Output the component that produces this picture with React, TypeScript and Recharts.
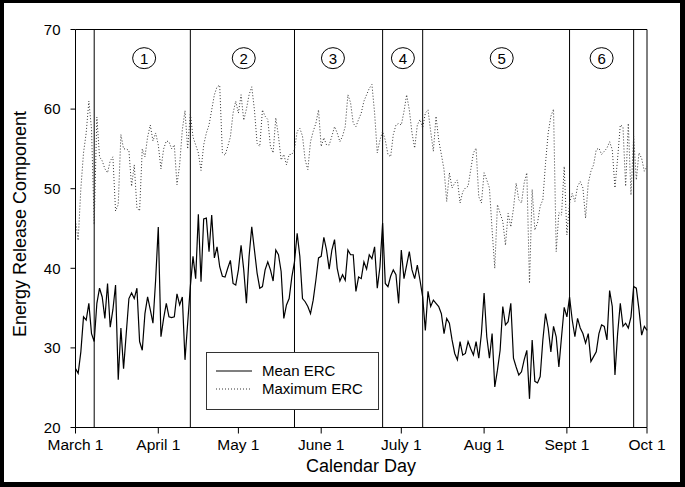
import { LineChart, Line, XAxis, YAxis, ReferenceLine, ReferenceDot, Legend } from 'recharts';

// daily values, March 1 = day 0 ... Oct 1 = day 214
const meanErc = [
  27.4, 26.8, 29.5, 33.9, 33.5, 35.6, 31.8, 30.8, 35.6, 37.5,
  36.4, 33.7, 38.1, 32.6, 34.8, 37.9, 26.0, 32.5, 27.4, 31.8,
  36.2, 36.9, 36.2, 37.5, 30.8, 29.7, 34.3, 36.4, 34.8, 33.1,
  38.5, 45.2, 31.4, 33.7, 35.6, 33.9, 33.8, 33.9, 36.8, 35.4,
  36.4, 28.5, 33.1, 37.7, 41.5, 38.7, 46.8, 38.3, 46.2, 46.3,
  42.1, 46.7, 41.3, 42.7, 40.2, 39.0, 38.9, 40.0, 41.0, 38.1,
  37.9, 39.8, 42.9, 39.8, 35.6, 41.5, 45.2, 42.3, 39.4, 37.5,
  37.7, 39.8, 40.8, 39.8, 38.4, 42.3, 41.7, 39.6, 33.7, 35.4,
  36.2, 38.9, 40.8, 44.4, 41.5, 36.2, 35.8, 35.2, 34.3, 36.0,
  38.5, 41.3, 41.5, 43.9, 42.3, 39.9, 42.3, 43.6, 40.0, 38.4,
  39.2, 38.5, 42.3, 41.7, 41.7, 37.1, 38.9, 38.7, 40.8, 39.9,
  41.7, 41.2, 42.7, 37.5, 40.2, 45.7, 38.1, 37.7, 39.0, 39.8,
  39.2, 35.6, 42.3, 38.7, 40.4, 42.1, 39.8, 38.7, 40.4, 38.5,
  36.4, 32.2, 37.1, 35.2, 36.0, 35.6, 35.2, 34.3, 31.8, 33.7,
  33.1, 31.0, 29.3, 28.5, 30.8, 29.1, 29.3, 30.8, 29.9, 29.1,
  30.8, 28.7, 31.8, 36.9, 31.4, 28.7, 31.8, 25.1, 27.2, 29.7,
  35.2, 32.9, 33.3, 35.6, 28.7, 27.6, 26.6, 27.0, 28.5, 29.7,
  23.6, 31.0, 25.8, 25.6, 26.4, 31.0, 34.3, 32.5, 29.5, 32.7,
  31.4, 27.6, 31.4, 35.1, 33.9, 36.4, 33.5, 31.4, 33.7, 32.5,
  31.8, 30.6, 31.8, 28.3, 28.9, 29.5, 31.8, 32.9, 32.7, 31.0,
  37.2, 35.2, 26.6, 31.8, 35.6, 32.7, 33.1, 32.5, 33.9, 37.7,
  37.5, 34.8, 31.6, 32.7, 32.2,
];

const maxErc = [
  46.0, 43.5, 50.0, 54.5, 57.0, 61.0, 57.5, 45.5, 59.0, 54.0,
  53.5, 52.5, 52.0, 53.5, 54.0, 47.2, 48.0, 56.8, 55.0, 55.0,
  54.8, 50.3, 53.0, 47.6, 47.2, 55.0, 54.0, 56.5, 58.0, 56.0,
  57.0, 55.5, 52.5, 55.0, 56.0, 55.9, 55.0, 55.5, 50.5, 53.0,
  57.4, 59.8, 55.0, 59.5, 56.5, 55.5, 54.5, 52.3, 55.5, 57.0,
  58.0, 59.9, 61.8, 62.8, 63.0, 54.5, 54.2, 55.3, 56.5, 59.5,
  61.0, 59.5, 61.8, 58.6, 60.0, 61.8, 62.8, 59.9, 55.7, 55.3,
  59.9, 59.1, 58.7, 55.3, 54.5, 58.9, 56.6, 53.6, 54.3, 53.0,
  54.3, 54.3, 54.9, 57.2, 57.6, 56.6, 53.6, 52.4, 55.9, 57.2,
  58.2, 59.9, 55.3, 56.4, 55.5, 55.5, 56.6, 57.8, 57.0, 55.9,
  56.6, 57.8, 61.8, 60.8, 58.2, 57.8, 58.7, 59.5, 61.0, 61.8,
  62.6, 63.1, 59.5, 54.5, 56.1, 57.2, 56.1, 54.3, 54.0, 56.8,
  58.0, 58.2, 58.0, 59.7, 61.8, 59.9, 57.0, 55.1, 58.0, 58.7,
  57.6, 59.5, 59.9, 57.2, 54.7, 59.1, 56.1, 54.3, 52.4, 48.4,
  52.0, 50.1, 50.7, 51.1, 48.2, 49.6, 50.1, 50.3, 52.4, 54.5,
  55.1, 49.0, 48.2, 52.0, 51.1, 50.1, 44.8, 40.0, 48.0, 46.9,
  45.9, 42.9, 46.9, 45.2, 47.5, 50.7, 48.6, 48.2, 50.7, 52.0,
  38.1, 49.9, 44.8, 45.7, 47.8, 48.6, 53.2, 57.0, 59.1, 60.0,
  42.1, 47.0, 46.7, 52.8, 44.2, 48.2, 49.4, 48.4, 50.3, 50.9,
  50.1, 46.3, 50.7, 52.2, 53.0, 54.9, 55.1, 54.3, 54.7, 55.1,
  55.9, 54.9, 50.1, 53.8, 58.0, 57.8, 50.3, 58.2, 49.2, 56.6,
  51.1, 54.5, 53.8, 52.2, 52.8,
];

const monthTicks = [0, 31, 61, 92, 122, 153, 184, 214];
const monthLabels = ['March 1', 'April 1', 'May 1', 'June 1', 'July 1', 'Aug 1', 'Sept 1', 'Oct 1'];
const yTicks = [20, 30, 40, 50, 60, 70];

// period boundaries and the numbered period markers
const periodBreaks = [7, 43, 82, 115, 130, 185, 209];
const periodNames = ['1', '2', '3', '4', '5', '6'];
const periodLabelDays = [25.7, 63, 96.4, 122.6, 159.6, 197];

const data = meanErc.map((m, i) => ({ day: i, mean: m, max: maxErc[i] }));

const font = '"Liberation Sans", Arial, Helvetica, sans-serif';

const LegendBox = () => (
  <svg width={173} height={58} style={{ display: 'block' }}>
    <rect x={0.5} y={0.5} width={172} height={57} fill='#fff' stroke='#333' />
    <line x1={10} x2={46} y1={19} y2={19} stroke='#000' strokeWidth={1.2} />
    <text x={56} y={24} fontSize={15} fontFamily={font} fill='#000'>Mean ERC</text>
    <line x1={10} x2={46} y1={37} y2={37} stroke='#333' strokeWidth={1} strokeDasharray='1 2' />
    <text x={56} y={42} fontSize={15} fontFamily={font} fill='#000'>Maximum ERC</text>
  </svg>
);

const PeriodMark = (props: any) => {
  const { cx, cy, name } = props;
  return (
    <g>
      <ellipse cx={cx} cy={cy} rx={11.5} ry={10.5} fill='#fff' stroke='#000' strokeWidth={1} />
      <text x={cx} y={cy} dy='0.36em' textAnchor='middle' fontSize={15} fontFamily={font} fill='#000'>
        {name}
      </text>
    </g>
  );
};

export default function App() {
  return (
    <div style={{ position: 'absolute', left: 0, top: 0, width: 685, height: 487, background: '#000' }}>
      <div style={{ position: 'absolute', left: 4, top: 3, right: 5, bottom: 5, background: '#fff' }} />
      <div style={{ position: 'absolute', left: 0, top: 0 }}>
        <LineChart
          width={685}
          height={487}
          data={data}
          margin={{ top: 29.5, right: 38, left: 15.5, bottom: 19.5 }}
        >
          <XAxis
            dataKey='day'
            type='number'
            domain={[0, 214]}
            ticks={monthTicks}
            interval={0}
            tickFormatter={(v) => monthLabels[monthTicks.indexOf(v)]}
            height={40}
            tickSize={6}
            tickMargin={5}
            stroke='#000'
            tick={{ fill: '#000', fontSize: 15.5, fontFamily: font }}
            label={{
              content: () => (
                <text x={361} y={472} textAnchor='middle' fontSize={18} fontFamily={font} fill='#000'>
                  Calendar Day
                </text>
              ),
            }}
          />
          <YAxis
            type='number'
            domain={[20, 70]}
            ticks={yTicks}
            interval={0}
            width={60}
            tickSize={5}
            tickMargin={10}
            stroke='#000'
            tick={{ fill: '#000', fontSize: 15, fontFamily: font }}
            label={{
              content: () => (
                <text
                  x={26}
                  y={224}
                  transform='rotate(-90 26 224)'
                  textAnchor='middle'
                  fontSize={18}
                  fontFamily={font}
                  fill='#000'
                >
                  Energy Release Component
                </text>
              ),
            }}
          />
          <ReferenceLine y={70} stroke='#000' />
          <ReferenceLine x={214} stroke='#000' />
          {periodBreaks.map((d) => (
            <ReferenceLine key={d} x={d} stroke='#000' strokeWidth={1} />
          ))}
          <Line
            dataKey='max'
            name='Maximum ERC'
            stroke='#333'
            strokeWidth={1}
            strokeDasharray='1 2'
            dot={false}
            isAnimationActive={false}
          />
          <Line
            dataKey='mean'
            name='Mean ERC'
            stroke='#000'
            strokeWidth={1.2}
            dot={false}
            isAnimationActive={false}
          />
          {periodLabelDays.map((d, i) => (
            <ReferenceDot
              key={periodNames[i]}
              x={d}
              y={66.4}
              r={11}
              shape={(p: any) => <PeriodMark {...p} name={periodNames[i]} />}
            />
          ))}
          <Legend
            layout='vertical'
            align='center'
            verticalAlign='middle'
            content={() => <LegendBox />}
            wrapperStyle={{ left: 206, top: 352, width: 173, height: 58 }}
          />
        </LineChart>
      </div>
    </div>
  );
}
